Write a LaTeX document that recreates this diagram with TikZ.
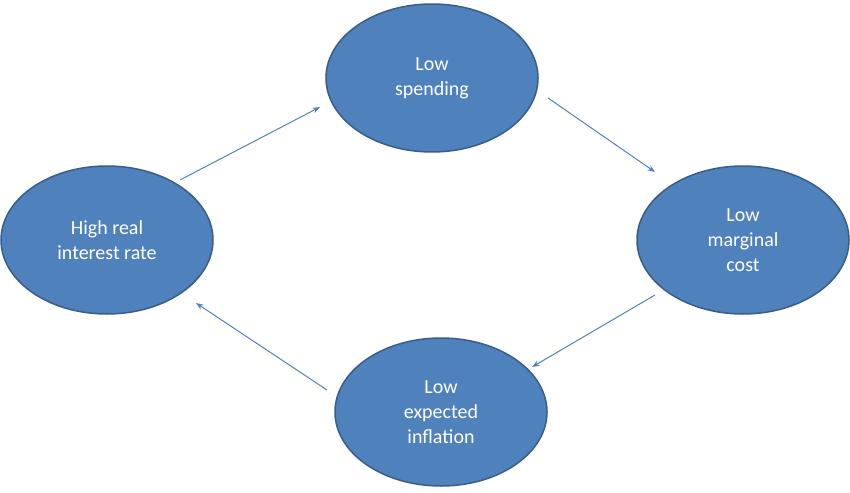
\documentclass[tikz,border=0pt]{standalone}
\usepackage{fontspec}
\setmainfont{Carlito}
\usetikzlibrary{shapes.geometric,arrows.meta}
\definecolor{cyclefill}{HTML}{4F81BD}
\definecolor{cycleline}{HTML}{385D8A}
\begin{document}
\begin{tikzpicture}[x=1pt, y=-1pt, >=Stealth,
    every node/.style={font=\fontsize{20}{25}\selectfont, text=white, align=center},
    stage/.style={ellipse, draw=cycleline, line width=1.5pt, fill=cyclefill,
      minimum width=212pt, minimum height=148pt, inner sep=0pt},
    flow/.style={->, draw=cyclefill, line width=1pt}
    ]
\useasboundingbox (0,0) rectangle (850,492);
\node[stage] (spend)  at (432,78)  {Low\\spending};
\node[stage] (rate)   at (107,240) {High real\\interest rate};
\node[stage] (cost)   at (743,240) {Low\\marginal\\cost};
\node[stage] (infl)   at (441,412) {Low\\expected\\inflation};
\coordinate (a1) at (180,180); \coordinate (a2) at (320,107);
\coordinate (b1) at (548,98);  \coordinate (b2) at (655,172);
\coordinate (c1) at (655,295); \coordinate (c2) at (532,367);
\coordinate (d1) at (327,390); \coordinate (d2) at (196,303);
\draw[flow] (a1) -- (a2);
\draw[flow] (b1) -- (b2);
\draw[flow] (c1) -- (c2);
\draw[flow] (d1) -- (d2);
\end{tikzpicture}
\end{document}
